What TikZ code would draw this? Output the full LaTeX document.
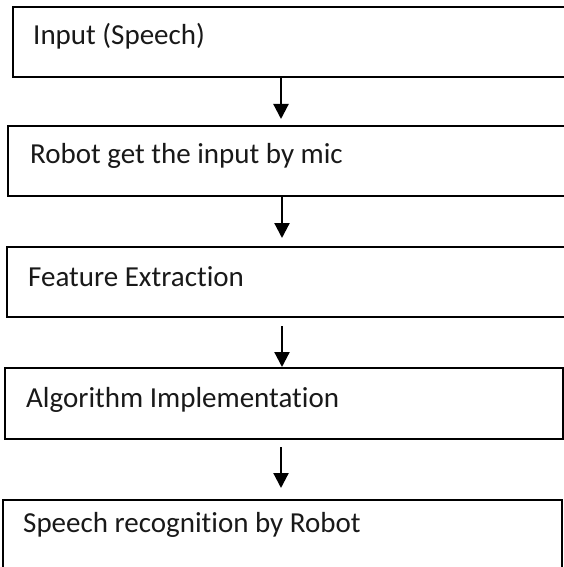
\documentclass[tikz,border=0pt]{standalone}
\usepackage{fontspec}
\setmainfont{Carlito}[RawFeature={-liga;-dlig}]
\usetikzlibrary{arrows.meta,calc}
\tikzset{
  boxrect/.style={draw=black, line width=2.2pt, fill=none},
  lbl/.style={anchor=base west, inner sep=0pt, font=\fontsize{29}{33}\selectfont, text=black!90},
  arr/.style={draw=black, line width=2.2pt, -{Triangle[width=15pt,length=15pt]}}
}
\begin{document}
\begin{tikzpicture}[x=1pt,y=-1pt]
\useasboundingbox (0,0) rectangle (564,567);
\clip (0,0) rectangle (564,567);
\fill[white] (0,0) rectangle (564,567);
% boxes
\draw[boxrect] (13,7) rectangle (600,77);
\coordinate (b1s) at (281,77);
\draw[boxrect] (8,126) rectangle (600,196);
\coordinate (b2n) at (281,126); \coordinate (b2s) at (282,196);
\draw[boxrect] (7,247) rectangle (600,317);
\coordinate (b3n) at (282,247); \coordinate (b3s) at (282,317);
\draw[boxrect] (5,368) rectangle (563,439);
\coordinate (b4n) at (282,368); \coordinate (b4s) at (281,439);
\draw[boxrect] (3,500) rectangle (562,600);
\coordinate (b5n) at (281,500);
% texts
\node[lbl] (t1) at (33,45) {Input (Speech)};
\node[lbl] (t2) at (30,163) {Robot get the input by mic};
\node[lbl] (t3) at (28,286) {Feature Extraction};
\node[lbl] (t4) at (26,407) {Algorithm Implementation};
\node[lbl] (t5) at (23,532) {Speech recognition by Robot};
% arrows
\draw[arr] (b1s) -- ($(b2n)+(0,-7)$);
\draw[arr] ($(b2s)+(0,1)$) -- ($(b3n)+(0,-9)$);
\draw[arr] ($(b3s)+(0,9)$) -- ($(b4n)+(0,-1)$);
\draw[arr] ($(b4s)+(0,8)$) -- ($(b5n)+(0,-12)$);
\end{tikzpicture}
\end{document}
